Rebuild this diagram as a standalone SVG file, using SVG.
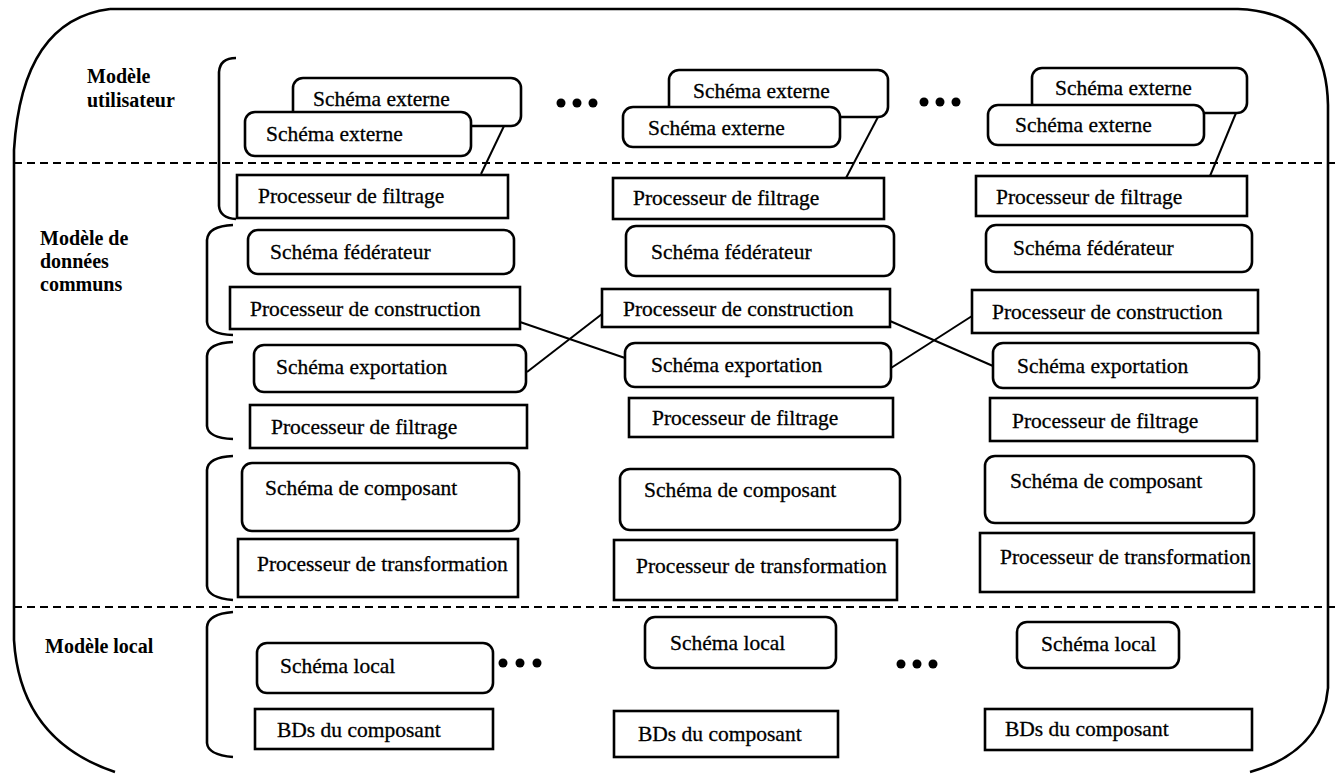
<svg xmlns="http://www.w3.org/2000/svg" width="1337" height="774" viewBox="0 0 1337 774">
<style>
.box{fill:#fff;stroke:#000;stroke-width:2.6}
.t{font-family:"Liberation Serif","Times New Roman",serif;font-size:21.5px;fill:#000;stroke:#000;stroke-width:0.3}
.lab{font-family:"Liberation Serif","Times New Roman",serif;font-size:20px;font-weight:bold;fill:#000}
.ln{fill:none;stroke:#000;stroke-width:2}
.br{fill:none;stroke:#000;stroke-width:2.6}
.dash{fill:none;stroke:#000;stroke-width:2;stroke-dasharray:8 5}
.dot{fill:#000}
</style>
<rect width="1337" height="774" fill="#fff"/>
<g id="frame">
<path class="br" d="M 110 9 L 1238 9 Q 1326 12 1328 105 L 1328 688 Q 1322 752 1250 772 M 110 9 Q 22 20 14 150 L 14 640 Q 20 740 115 772"/>
<line class="dash" x1="14" y1="163" x2="1337" y2="163"/>
<line class="dash" x1="14" y1="607" x2="1337" y2="607"/>
</g>
<g id="labels">
<text class="lab" x="87" y="83">Modèle</text>
<text class="lab" x="87" y="107">utilisateur</text>
<text class="lab" x="40" y="245">Modèle de</text>
<text class="lab" x="40" y="268">données</text>
<text class="lab" x="40" y="291">communs</text>
<text class="lab" x="45" y="653">Modèle local</text>
</g>
<g id="brackets">
<path class="br" d="M 236 58 Q 220 58 219 72 L 219 206 Q 220 218 236 219"/>
<path class="br" d="M 233 225 Q 208 226 207 240 L 207 322 Q 208 334 233 335"/>
<path class="br" d="M 233 342 Q 208 343 207 356 L 207 426 Q 208 438 233 439"/>
<path class="br" d="M 233 456 Q 208 457 207 470 L 207 586 Q 208 598 233 600"/>
<path class="br" d="M 233 612 Q 208 614 207 627 L 207 743 Q 208 755 233 757"/>
</g>
<g id="dots">
<circle class="dot" cx="561" cy="103" r="4.5"/><circle class="dot" cx="577" cy="103" r="4.5"/><circle class="dot" cx="593" cy="103" r="4.5"/>
<circle class="dot" cx="924" cy="102" r="4.5"/><circle class="dot" cx="940" cy="102" r="4.5"/><circle class="dot" cx="956" cy="102" r="4.5"/>
<circle class="dot" cx="503" cy="663" r="4.5"/><circle class="dot" cx="520" cy="663" r="4.5"/><circle class="dot" cx="537" cy="663" r="4.5"/>
<circle class="dot" cx="901" cy="664" r="4.5"/><circle class="dot" cx="917" cy="664" r="4.5"/><circle class="dot" cx="933" cy="664" r="4.5"/>
</g>
<g id="connectors">
<line class="ln" x1="504" y1="126" x2="481" y2="174"/>
<line class="ln" x1="878" y1="117" x2="846" y2="178"/>
<line class="ln" x1="1236" y1="113" x2="1210" y2="176"/>
<line class="ln" x1="520" y1="322" x2="625" y2="358"/>
<line class="ln" x1="527" y1="372" x2="602" y2="314"/>
<line class="ln" x1="890" y1="321" x2="993" y2="366"/>
<line class="ln" x1="891" y1="368" x2="972" y2="316"/>
</g>
<!-- Column 1 -->
<g id="c1-se-back"><rect class="box" x="293" y="78" width="228" height="48" rx="10"/><text class="t" x="313" y="106">Schéma externe</text></g>
<g id="c1-se-front"><rect class="box" x="245" y="112" width="226" height="44" rx="10"/><text class="t" x="266" y="141">Schéma externe</text></g>
<g id="c1-pf1"><rect class="box" x="237" y="175" width="271" height="43"/><text class="t" x="258" y="203">Processeur de filtrage</text></g>
<g id="c1-sf"><rect class="box" x="248" y="230" width="266" height="44" rx="10"/><text class="t" x="270" y="259">Schéma fédérateur</text></g>
<g id="c1-pc"><rect class="box" x="230" y="287" width="290" height="42"/><text class="t" x="250" y="316">Processeur de construction</text></g>
<g id="c1-sx"><rect class="box" x="254" y="345" width="272" height="47" rx="10"/><text class="t" x="276" y="374">Schéma exportation</text></g>
<g id="c1-pf2"><rect class="box" x="250" y="405" width="277" height="43"/><text class="t" x="271" y="434">Processeur de filtrage</text></g>
<g id="c1-sc"><rect class="box" x="242" y="463" width="277" height="68" rx="10"/><text class="t" x="265" y="495">Schéma de composant</text></g>
<g id="c1-pt"><rect class="box" x="238" y="539" width="280" height="58"/><text class="t" x="257" y="571">Processeur de transformation</text></g>
<g id="c1-sl"><rect class="box" x="257" y="643" width="236" height="50" rx="10"/><text class="t" x="280" y="673">Schéma local</text></g>
<g id="c1-bd"><rect class="box" x="255" y="709" width="238" height="40"/><text class="t" x="277" y="737">BDs du composant</text></g>
<!-- Column 2 -->
<g id="c2-se-back"><rect class="box" x="669" y="70" width="219" height="47" rx="10"/><text class="t" x="693" y="98">Schéma externe</text></g>
<g id="c2-se-front"><rect class="box" x="623" y="107" width="217" height="40" rx="10"/><text class="t" x="648" y="135">Schéma externe</text></g>
<g id="c2-pf1"><rect class="box" x="613" y="178" width="271" height="41"/><text class="t" x="633" y="205">Processeur de filtrage</text></g>
<g id="c2-sf"><rect class="box" x="626" y="226" width="268" height="50" rx="10"/><text class="t" x="651" y="259">Schéma fédérateur</text></g>
<g id="c2-pc"><rect class="box" x="602" y="289" width="288" height="38"/><text class="t" x="623" y="316">Processeur de construction</text></g>
<g id="c2-sx"><rect class="box" x="625" y="343" width="266" height="44" rx="10"/><text class="t" x="651" y="372">Schéma exportation</text></g>
<g id="c2-pf2"><rect class="box" x="629" y="398" width="264" height="39"/><text class="t" x="652" y="425">Processeur de filtrage</text></g>
<g id="c2-sc"><rect class="box" x="620" y="469" width="280" height="61" rx="10"/><text class="t" x="644" y="497">Schéma de composant</text></g>
<g id="c2-pt"><rect class="box" x="614" y="540" width="283" height="60"/><text class="t" x="636" y="573">Processeur de transformation</text></g>
<g id="c2-sl"><rect class="box" x="645" y="617" width="191" height="51" rx="10"/><text class="t" x="670" y="650">Schéma local</text></g>
<g id="c2-bd"><rect class="box" x="614" y="711" width="224" height="46"/><text class="t" x="638" y="741">BDs du composant</text></g>
<!-- Column 3 -->
<g id="c3-se-back"><rect class="box" x="1032" y="68" width="215" height="45" rx="10"/><text class="t" x="1055" y="95">Schéma externe</text></g>
<g id="c3-se-front"><rect class="box" x="988" y="105" width="216" height="40" rx="10"/><text class="t" x="1015" y="132">Schéma externe</text></g>
<g id="c3-pf1"><rect class="box" x="976" y="176" width="271" height="40"/><text class="t" x="996" y="204">Processeur de filtrage</text></g>
<g id="c3-sf"><rect class="box" x="986" y="225" width="266" height="47" rx="10"/><text class="t" x="1013" y="255">Schéma fédérateur</text></g>
<g id="c3-pc"><rect class="box" x="972" y="290" width="286" height="43"/><text class="t" x="992" y="319">Processeur de construction</text></g>
<g id="c3-sx"><rect class="box" x="993" y="343" width="266" height="45" rx="10"/><text class="t" x="1017" y="373">Schéma exportation</text></g>
<g id="c3-pf2"><rect class="box" x="990" y="398" width="267" height="43"/><text class="t" x="1012" y="428">Processeur de filtrage</text></g>
<g id="c3-sc"><rect class="box" x="985" y="456" width="269" height="67" rx="10"/><text class="t" x="1010" y="488">Schéma de composant</text></g>
<g id="c3-pt"><rect class="box" x="980" y="533" width="274" height="59"/><text class="t" x="1000" y="564">Processeur de transformation</text></g>
<g id="c3-sl"><rect class="box" x="1017" y="622" width="162" height="46" rx="10"/><text class="t" x="1041" y="651">Schéma local</text></g>
<g id="c3-bd"><rect class="box" x="985" y="709" width="267" height="41"/><text class="t" x="1005" y="736">BDs du composant</text></g>
</svg>
